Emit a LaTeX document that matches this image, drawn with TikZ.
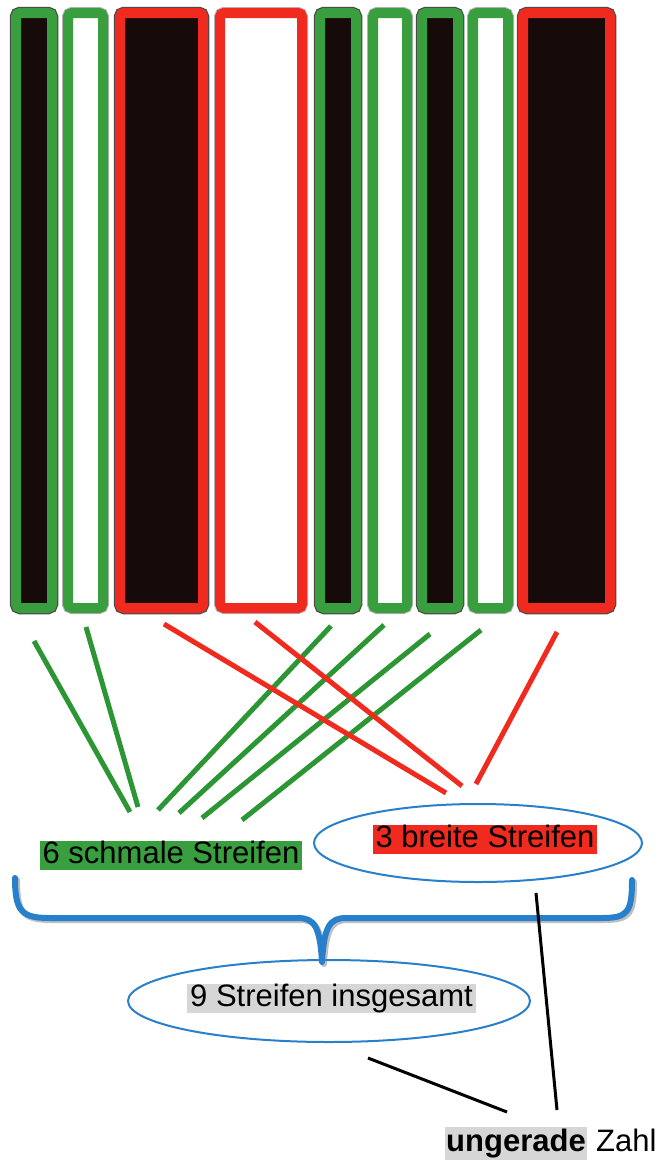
\documentclass[tikz,border=0pt]{standalone}
\usepackage{fontspec}
\setmainfont{Liberation Sans}
\usetikzlibrary{shapes.geometric}
\definecolor{sg}{RGB}{56,158,62}
\definecolor{lg}{RGB}{44,150,52}
\definecolor{sr}{RGB}{240,42,30}
\definecolor{ink}{RGB}{22,10,10}
\definecolor{bl}{RGB}{40,128,205}
\definecolor{gbox}{RGB}{214,214,214}
\tikzset{
  stripe/.style={draw=#1, line width=10pt, rounded corners=4pt, inner sep=0pt, minimum height=595pt},
  darkstripe/.style={stripe=#1, fill=ink, preaction={draw=black!70, line width=12.5pt}},
  lightstripe/.style={stripe=#1, fill=white, preaction={draw=black!30, line width=12pt}},
  gline/.style={draw=lg, line width=5pt},
  rline/.style={draw=sr, line width=5pt},
  kline/.style={draw=black, line width=3pt},
  oval/.style={ellipse, draw=bl, line width=2pt, inner sep=0pt},
  lab/.style={inner xsep=3pt, inner ysep=0pt, text height=22.5pt, text depth=6.5pt, font=\fontsize{31}{37}\selectfont},
}
\begin{document}
\begin{tikzpicture}[x=1pt,y=-1pt]
\useasboundingbox[fill=white] (0,0) rectangle (661,1162);
% stripes
\node[darkstripe=sg,  minimum width=36pt] (s1) at (34,310.5) {};
\node[lightstripe=sg, minimum width=35pt] (s2) at (85.5,310.5) {};
\node[darkstripe=sr,  minimum width=83pt] (s3) at (161.5,310.5) {};
\node[lightstripe=sr, minimum width=82pt] (s4) at (261,310.5) {};
\node[darkstripe=sg,  minimum width=36pt] (s5) at (338,310.5) {};
\node[lightstripe=sg, minimum width=34pt] (s6) at (390,310.5) {};
\node[darkstripe=sg,  minimum width=36pt] (s7) at (440,310.5) {};
\node[lightstripe=sg, minimum width=35pt] (s8) at (490.5,310.5) {};
\node[darkstripe=sr,  minimum width=87pt] (s9) at (566.5,310.5) {};
% line end points
\coordinate (a1) at (34,641);  \coordinate (a2) at (130,812);
\coordinate (b1) at (86,627);  \coordinate (b2) at (138,807);
\coordinate (c1) at (331,626); \coordinate (c2) at (158,810);
\coordinate (d1) at (384,625); \coordinate (d2) at (179,813);
\coordinate (e1) at (430,634); \coordinate (e2) at (202,818);
\coordinate (f1) at (481,630); \coordinate (f2) at (242,820);
\coordinate (g1) at (164,624); \coordinate (g2) at (446,793);
\coordinate (h1) at (255,622); \coordinate (h2) at (462,786);
\coordinate (i1) at (557,632); \coordinate (i2) at (476,784);
\draw[gline] (a1) -- (a2);
\draw[gline] (b1) -- (b2);
\draw[gline] (c1) -- (c2);
\draw[gline] (d1) -- (d2);
\draw[gline] (e1) -- (e2);
\draw[gline] (f1) -- (f2);
\draw[rline] (g1) -- (g2);
\draw[rline] (h1) -- (h2);
\draw[rline] (i1) -- (i2);
% labels
\node[lab, fill=sg, minimum width=260pt] (schmal) at (171,855) {6 schmale Streifen};
\node[oval, minimum width=328pt, minimum height=78pt] (ov3) at (478,843) {};
\node[lab, fill=sr, minimum width=224pt] (breit) at (485,839) {3 breite Streifen};
% brace
\draw[black!25, line width=6pt, line cap=round, line join=round, shift={(2pt,-2pt)}]
  (15,878) .. controls (15,912) and (22,918) .. (50,918) -- (298,918)
  .. controls (314,918) and (320,926) .. (322,962)
  .. controls (324,926) and (330,918) .. (346,918) -- (602,918)
  .. controls (628,918) and (632,912) .. (632,880);
\draw[bl, line width=6pt, line cap=round, line join=round]
  (15,878) .. controls (15,912) and (22,918) .. (50,918) -- (298,918)
  .. controls (314,918) and (320,926) .. (322,962)
  .. controls (324,926) and (330,918) .. (346,918) -- (602,918)
  .. controls (628,918) and (632,912) .. (632,880);
\node[oval, minimum width=402pt, minimum height=82pt] (ov9) at (329,1001) {};
\node[lab, fill=gbox, minimum width=289pt] (gesamt) at (331.5,998.5) {9 Streifen insgesamt};
% bottom
\node[lab, fill=gbox, anchor=west, inner xsep=1pt, minimum height=33pt] (ung) at (445,1143.5) {\bfseries ungerade};
\node[lab, inner xsep=0pt, anchor=base west] (zahl) at ([xshift=9pt]ung.base east) {Zahl};
\coordinate (k1) at (536,893);  \coordinate (k2) at (557,1110);
\coordinate (m1) at (368,1058); \coordinate (m2) at (507,1112);
\draw[kline] (k1) -- (k2);
\draw[kline] (m1) -- (m2);
\end{tikzpicture}
\end{document}
